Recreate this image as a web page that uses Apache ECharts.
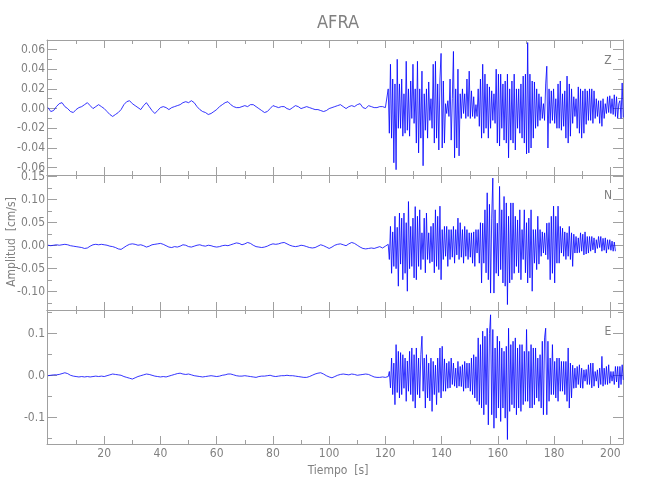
<!DOCTYPE html>
<html><head><meta charset="utf-8">
<script src="https://cdn.jsdelivr.net/npm/echarts@6/dist/echarts.min.js"></script>
<style>html,body{margin:0;padding:0;background:#fff}#c{width:650px;height:500px}</style>
</head><body><div id="c"></div>
<script>
const chartTitle = 'AFRA';
const yAxisTitle = 'Amplitud  [cm/s]';
const xAxisTitle = 'Tiempo  [s]';
const componentNames = ['Z', 'N', 'E'];

const xTickValues = [20, 40, 60, 80, 100, 120, 140, 160, 180, 200];
const xMinorTicks = [10, 30, 50, 70, 90, 110, 130, 150, 170, 190];
const zTicks = [-0.06, -0.04, -0.02, 0, 0.02, 0.04, 0.06];
const zMinor = [-0.05, -0.03, -0.01, 0.01, 0.03, 0.05];
const nTicks = [-0.10, -0.05, 0, 0.05, 0.10, 0.15];
const nMinor = [-0.125, -0.075, -0.025, 0.025, 0.075, 0.125];
const eTicks = [-0.1, 0, 0.1];
const eMinor = [-0.15, -0.05, 0.05, 0.15];

// sampling of the read-off values (seconds)
const tPreStart = 0, tPreStep = 1;
const tPostStart = 121, tPostStep = 0.4;

// Z component (cm/s)
const zPre = [.001,-.003,-.002,.002,.005,.006,.002,0,-.003,-.004,
-.001,.001,.002,.004,.006,.003,0,.002,.004,.002,
0,-.003,-.006,-.008,-.006,-.004,-.001,.004,.007,.008,
.005,.003,.001,-.001,.003,.006,.002,-.002,-.005,-.002,
.001,.002,.001,-.001,.001,.002,.003,.004,.006,.007,
.006,.008,.006,.002,-.001,-.003,-.004,-.006,-.005,-.003,
-.001,.002,.004,.006,.007,.004,.002,.001,.001,.002,
.003,.002,.004,.004,.002,0,-.002,-.004,-.003,0,
.003,.002,.001,.002,.002,0,-.001,.001,.003,.002,
0,.001,.002,.001,0,-.001,-.001,-.002,-.003,-.002,
0,.001,.002,.003,.004,.002,0,.002,.003,.002,
.004,.005,.001,0,.003,.002,.001,.001,.002,.002,
.001];
const zPost = [.02,-.025,.045,-.03,.03,-.055,.025,-.062,.05,-.02,
.025,-.02,.03,-.028,.015,-.025,.048,-.022,.02,-.028,
.028,-.01,.045,-.015,.02,-.035,.048,-.045,.02,-.03,
.038,-.058,.015,-.022,.02,-.03,.027,-.012,.01,-.02,
.045,-.035,.048,-.03,.025,-.042,.03,.056,-.04,.028,
-.035,.005,-.005,.008,-.008,.03,-.032,.01,.058,-.05,
.02,-.04,.04,-.048,.015,-.01,.02,-.005,.015,-.01,
.03,-.008,.038,-.01,.018,-.008,.012,-.01,.004,-.008,
.02,-.018,.03,-.03,.045,-.025,.035,-.02,.025,-.03,
.022,-.02,.018,-.012,.015,-.015,.04,-.035,.035,-.038,
.035,-.02,.025,-.032,.028,-.035,.035,-.05,.02,-.032,
.028,-.035,.035,-.042,.02,-.02,.02,-.025,.025,-.03,
.033,-.035,.035,-.046,.067,-.045,.035,-.04,.028,-.03,
.027,-.02,.02,-.018,.015,-.012,.012,-.01,.005,-.012,
.025,.043,-.04,.02,-.015,.018,-.012,.02,-.015,.01,
-.02,.025,-.02,.028,-.022,.015,-.018,.018,-.03,.033,
-.035,.025,-.028,.02,-.015,.012,-.008,.01,-.02,.022,
-.025,.02,-.03,.018,-.025,.02,-.016,.018,-.012,.02,
-.012,.02,-.015,.018,-.01,.01,-.008,.008,-.015,.008,
-.018,.01,-.01,.005,-.005,.012,-.004,.013,-.005,.01,
-.006,.014,-.008,.012,-.01,.005,.008,-.01,.026,-.009];

// N component (cm/s)
const nPre = [.001,0,.001,.002,.001,.002,.003,.002,0,-.001,
-.002,-.003,-.004,-.006,-.005,-.001,.002,.003,.002,.003,
.002,.001,-.001,-.002,-.004,-.007,-.008,-.004,0,.003,
.004,.003,.001,.002,0,-.003,-.001,.002,.003,.004,
.005,.003,0,-.003,-.004,-.002,-.003,-.001,.002,.001,
-.002,-.003,-.001,.001,.002,0,-.001,.001,0,-.002,
-.003,-.002,0,.001,0,.002,.004,.006,.005,.002,
.004,.007,.005,.001,-.002,-.003,-.004,-.003,-.001,.002,
.004,.003,.004,.006,.007,.004,.001,-.001,-.002,-.001,
.001,0,-.002,-.004,-.005,-.004,-.001,.002,0,-.003,
-.006,-.003,.001,.003,.004,.002,0,.004,.007,.005,
.001,-.003,-.006,-.007,-.006,-.005,-.006,-.004,-.002,-.005,
-.001];
const nPost = [.003,-.03,.042,-.06,.03,-.045,.064,-.05,.04,-.088,
.071,-.04,.06,-.074,.071,-.06,.05,-.099,.096,-.05,
.042,-.045,.06,-.07,.085,-.074,.064,-.045,.078,-.052,
.028,-.03,.06,-.059,.071,-.03,.028,-.038,.042,-.035,
.049,-.059,.078,-.045,.064,-.052,.086,-.074,.035,-.03,
.042,-.023,.042,-.045,.035,-.03,.035,-.025,.042,-.038,
.035,-.02,.06,-.03,.05,-.025,.035,-.038,.042,-.023,
.035,-.03,.028,-.025,.028,-.038,.03,-.045,.035,-.016,
.035,-.038,.05,-.081,.049,-.038,.078,-.059,.115,-.074,
.09,-.103,.06,.147,-.103,.078,-.06,.049,-.066,.129,
-.052,.078,-.081,.107,-.088,.093,-.128,.064,-.081,.093,
-.074,.093,-.06,.064,-.045,.056,-.059,.078,-.074,.035,
-.03,.078,-.059,.05,-.081,.06,-.07,.078,-.099,.035,
-.038,.035,-.052,.064,-.04,.035,-.023,.03,-.016,.028,
-.02,.049,-.03,.05,-.074,.064,-.06,.086,-.081,.064,
-.038,.086,-.038,.042,-.016,.038,-.023,.03,-.03,.028,
-.023,.042,-.03,.028,-.045,.025,-.016,.02,-.016,.017,
-.015,.028,-.012,.025,-.02,.03,-.018,.02,-.016,.02,
-.012,.02,-.009,.017,-.016,.013,-.006,.02,-.004,.02,
-.012,.016,-.01,.017,-.016,.013,-.008,.013,-.01,.01,
-.012,.008,-.012];

// E component (cm/s)
const ePre = [0,.001,.002,.002,.003,.005,.007,.005,.001,-.001,
-.002,-.003,-.002,-.003,-.002,-.003,-.002,-.001,-.002,-.001,
-.002,0,.002,.004,.003,.002,.001,-.002,-.004,-.006,
-.008,-.005,-.002,0,.002,.004,.003,.001,-.001,-.002,
-.003,-.002,-.003,-.001,.001,.003,.005,.006,.004,.003,
.004,.002,0,-.001,-.002,-.003,-.002,-.001,0,-.001,
-.002,-.001,.001,.002,.004,.004,.002,0,-.001,-.001,
0,-.001,-.002,-.003,-.004,-.002,-.001,-.001,0,.001,
-.001,-.002,-.001,0,0,.001,0,0,-.001,-.002,
-.003,-.004,-.004,-.002,.001,.004,.006,.007,.004,0,
-.003,-.005,-.002,.001,.003,.004,.003,.002,.004,.003,
.001,.002,.003,.004,.003,0,-.003,-.004,-.004,-.003,
-.004];
const ePost = [-.002,.01,-.029,.042,-.045,.03,-.069,.074,-.04,.058,
-.053,.055,-.045,.05,-.03,.042,-.061,.035,-.037,.058,
-.045,.066,-.061,.05,-.077,.066,-.045,.042,-.053,.05,
.094,-.037,.042,-.077,.05,-.053,.03,-.06,.042,-.085,
.034,-.045,.025,-.069,.042,-.04,.066,-.053,.07,-.037,
.04,-.037,.03,-.03,.034,-.029,.042,-.021,.03,-.025,
.018,-.029,.034,-.025,.022,-.026,.026,-.037,.034,-.03,
.03,-.029,.03,-.037,.042,-.045,.05,-.053,.045,-.061,
.09,-.069,.074,-.077,.106,-.093,.094,-.069,.113,-.117,
.1,.145,-.093,.11,-.125,.066,-.101,.094,-.077,.082,
-.109,.066,-.077,.058,-.101,.07,-.152,.113,-.085,.074,
-.069,.082,-.077,.09,-.093,.066,-.077,.074,-.085,.074,
-.069,.058,-.061,.11,-.061,.058,-.077,.074,-.077,.066,
-.069,.066,-.053,.042,-.061,.05,-.077,.082,-.093,.09,
.113,-.093,.082,-.061,.042,-.045,.074,-.045,.034,-.053,
.042,-.061,.042,-.037,.034,-.037,.034,-.045,.034,-.061,
.066,-.077,.03,-.053,.025,-.03,.018,-.029,.022,-.021,
.026,-.029,.018,-.03,.014,-.013,.015,-.021,.026,-.021,
.03,-.029,.03,-.025,.01,-.013,.014,-.029,.018,-.021,
.046,-.025,.018,-.021,.022,-.021,.026,-.018,.01,-.013,
.01,-.021,.022,-.015,.022,-.029,.022,-.021,.026,-.01];

function toPairs(pre, post) {
  const out = [];
  pre.forEach((v, i) => out.push([tPreStart + i * tPreStep, v]));
  post.forEach((v, i) => out.push([+(tPostStart + i * tPostStep).toFixed(2), v]));
  return out;
}

const FONT = '"Liberation Sans Narrow","DejaVu Sans Condensed","Arial Narrow",sans-serif';
const AX = '#a0a0a0';
const TXT = '#808080';
const X_MIN = -0.35, X_MAX = 204.5;
const LEFT = 47, WIDTH = 576;

const panels = [
  { data: toPairs(zPre, zPost), ticks: zTicks, minor: zMinor, min: -0.0674, max: 0.0696, dec: 2, top: 40, height: 135, labelY: 61 },
  { data: toPairs(nPre, nPost), ticks: nTicks, minor: nMinor, min: -0.1398, max: 0.1537, dec: 2, top: 175, height: 135, labelY: 196 },
  { data: toPairs(ePre, ePost), ticks: eTicks, minor: eMinor, min: -0.1626, max: 0.1564, dec: 1, top: 310, height: 134, labelY: 332 }
];

const grid = [], xAxis = [], yAxis = [], series = [];
panels.forEach((p, pi) => {
  for (let layer = 0; layer < 2; layer++) {
    const g = grid.length;
    grid.push({ left: LEFT, width: WIDTH, top: p.top, height: p.height, containLabel: false });
    const major = layer === 0;
    ['bottom', 'top'].forEach(pos => {
      const showLabels = major && pos === 'bottom' && pi === 2;
      xAxis.push({
        gridIndex: g, type: 'value', position: pos, min: X_MIN, max: X_MAX,
        axisLine: { show: major, onZero: false, lineStyle: { color: AX, width: 1 } },
        axisTick: { show: true, inside: true, length: major ? 8 : 4, customValues: major ? xTickValues : xMinorTicks, lineStyle: { color: AX, width: 1 } },
        axisLabel: showLabels ? { show: true, customValues: xTickValues, color: TXT, fontSize: 12, fontFamily: FONT, margin: 4 } : { show: false },
        splitLine: { show: false }
      });
    });
    ['left', 'right'].forEach(pos => {
      const showLabels = major && pos === 'left';
      yAxis.push({
        gridIndex: g, type: 'value', position: pos, min: p.min, max: p.max,
        axisLine: { show: major, onZero: false, lineStyle: { color: AX, width: 1 } },
        axisTick: { show: true, inside: true, length: major ? 10 : 5, customValues: major ? p.ticks : p.minor, lineStyle: { color: AX, width: 1 } },
        axisLabel: showLabels ? { show: true, customValues: p.ticks, color: TXT, fontSize: 12, fontFamily: FONT, margin: 2,
          formatter: v => v.toFixed(p.dec) } : { show: false },
        splitLine: { show: false }
      });
    });
  }
  series.push({
    type: 'line', xAxisIndex: 4 * pi, yAxisIndex: 4 * pi, data: p.data,
    showSymbol: false, symbol: 'none', sampling: null, silent: true,
    lineStyle: { color: '#0000ff', width: 0.8 }, z: 1
  });
});

const graphic = [
  { type: 'text', x: 338, y: 23, style: { text: chartTitle, fill: TXT, font: '18px ' + FONT, align: 'center', verticalAlign: 'middle' } },
  { type: 'text', x: 338, y: 471, style: { text: xAxisTitle, fill: TXT, font: '12px ' + FONT, align: 'center', verticalAlign: 'middle' } },
  { type: 'text', x: 12, y: 242, rotation: Math.PI / 2, style: { text: yAxisTitle, fill: TXT, font: '12px ' + FONT, align: 'center', verticalAlign: 'middle' } }
];
panels.forEach((p, i) => graphic.push({ type: 'text', x: 608, y: p.labelY, style: { text: componentNames[i], fill: TXT, font: '12px ' + FONT, align: 'center', verticalAlign: 'middle' } }));

const chart = echarts.init(document.getElementById('c'), null, { renderer: 'canvas' });
chart.setOption({ animation: false, backgroundColor: '#fff', grid, xAxis, yAxis, series, graphic });
</script>
</body></html>
